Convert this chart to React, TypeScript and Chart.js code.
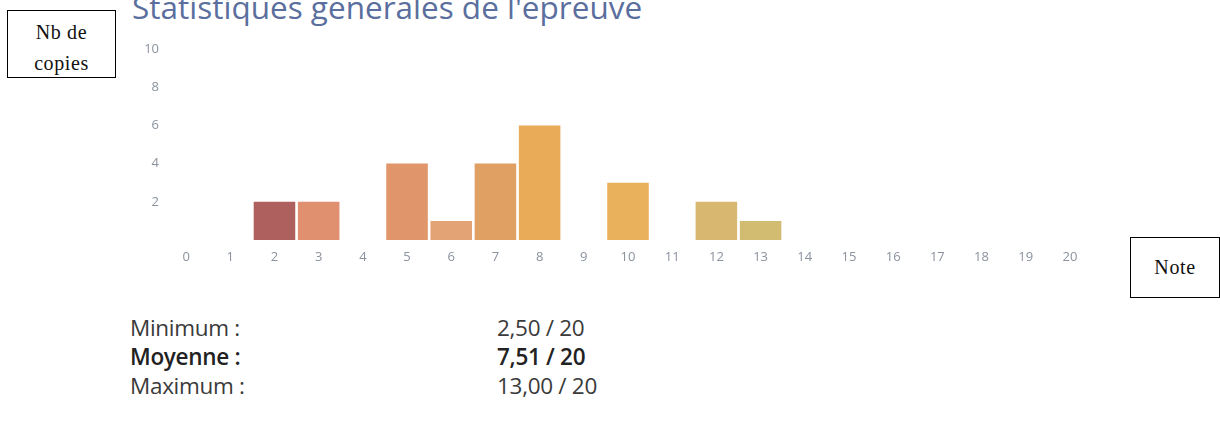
import React, { useEffect, useRef } from "react";
import { Chart, registerables } from "chart.js";

Chart.register(...registerables);

const notes: string[] = ["0","1","2","3","4","5","6","7","8","9","10","11","12","13","14","15","16","17","18","19","20"];
const copies: number[] = [0, 0, 2, 2, 0, 4, 1, 4, 6, 0, 3, 0, 2, 1, 0, 0, 0, 0, 0, 0, 0];
const barColors: string[] = [
  "#b0625f", "#b0625f", "#ad605d", "#e08f6f", "#e0956a", "#e0956a", "#e3a375", "#e0a064",
  "#e9ab58", "#e8ae58", "#e9b15b", "#dbb56a", "#d8b871", "#d2bc72", "#d2bc72", "#d2bc72",
  "#d2bc72", "#d2bc72", "#d2bc72", "#d2bc72", "#d2bc72",
];
const yTicks: number[] = [0, 2, 4, 6, 8, 10];
const title = "Statistiques générales de l'épreuve";
const statLabels: string[] = ["Minimum :", "Moyenne :", "Maximum :"];
const statValues: string[] = ["2,50 / 20", "7,51 / 20", "13,00 / 20"];

export default function App() {
  const ref = useRef<HTMLCanvasElement | null>(null);

  useEffect(() => {
    if (!ref.current) return;
    const chart = new Chart(ref.current, {
      type: "bar",
      data: {
        labels: notes,
        datasets: [
          {
            data: copies,
            backgroundColor: barColors,
            borderWidth: 0,
            barPercentage: 0.94,
            categoryPercentage: 1,
          },
        ],
      },
      options: {
        responsive: false,
        animation: false,
        maintainAspectRatio: false,
        layout: { padding: { left: 134, right: 128, top: 49, bottom: 30 } },
        plugins: { legend: { display: false }, tooltip: { enabled: false }, title: { display: false } },
        scales: {
          x: {
            grid: { display: false, drawTicks: false },
            border: { display: false },
            ticks: {
              padding: 9,
              color: "#8a929e",
              font: { family: "'Open Sans'", size: 13, weight: "normal" as any },
              maxRotation: 0,
              autoSkip: false,
            },
            afterFit: (s: any) => { s.height = 30; },
          },
          y: {
            min: 0,
            max: 10,
            afterBuildTicks: (s: any) => { s.ticks = yTicks.map((v) => ({ value: v })); },
            grid: { display: false, drawTicks: false },
            border: { display: false },
            ticks: {
              padding: 5,
              color: "#8a929e",
              font: { family: "'Open Sans'", size: 13, weight: "normal" as any },
              callback: (v: any) => (Number(v) === 0 ? "" : String(v)),
            },
            afterFit: (s: any) => { s.width = 30; },
          },
        },
      },
    });
    return () => chart.destroy();
  }, []);

  const boxStyle: React.CSSProperties = {
    position: "absolute",
    border: "1.5px solid #000",
    background: "#fff",
    fontFamily: "'Liberation Serif', 'DejaVu Serif', serif",
    fontSize: 20,
    letterSpacing: 0.6,
    color: "#111",
    boxSizing: "border-box",
    textAlign: "center",
  };

  const statStyle = (i: number): React.CSSProperties => ({
    position: "absolute",
    top: 313 + i * 29,
    fontFamily: "'Open Sans'",
    fontSize: 22.5,
    lineHeight: "29px",
    color: i === 1 ? "#222" : "#3a3a3a",
    fontWeight: i === 1 ? 600 : 400,
    letterSpacing: -0.3,
    whiteSpace: "nowrap",
  });

  return (
    <div style={{ position: "absolute", left: 0, top: 0, width: 1220, height: 429, background: "#fff", overflow: "hidden" }}>
      <div
        style={{
          position: "absolute",
          left: 132,
          top: -13,
          fontFamily: "'Open Sans'",
          fontSize: 31.5,
          color: "#5b6f9e",
          whiteSpace: "nowrap",
          lineHeight: "40px",
        }}
      >
        {title}
      </div>
      <canvas ref={ref} width={1220} height={300} style={{ position: "absolute", left: 0, top: 0, width: 1220, height: 300 }} />
      <div style={{ ...boxStyle, left: 7, top: 10, width: 109, height: 68, lineHeight: "31px", paddingTop: 6 }}>
        Nb de<br />copies
      </div>
      <div style={{ ...boxStyle, left: 1130, top: 237, width: 90, height: 61, lineHeight: "58px" }}>Note</div>
      {statLabels.map((l, i) => (
        <div key={l} style={{ ...statStyle(i), left: 130 }}>
          {l}
        </div>
      ))}
      {statValues.map((v, i) => (
        <div key={v} style={{ ...statStyle(i), left: 497 }}>
          {v}
        </div>
      ))}
    </div>
  );
}
